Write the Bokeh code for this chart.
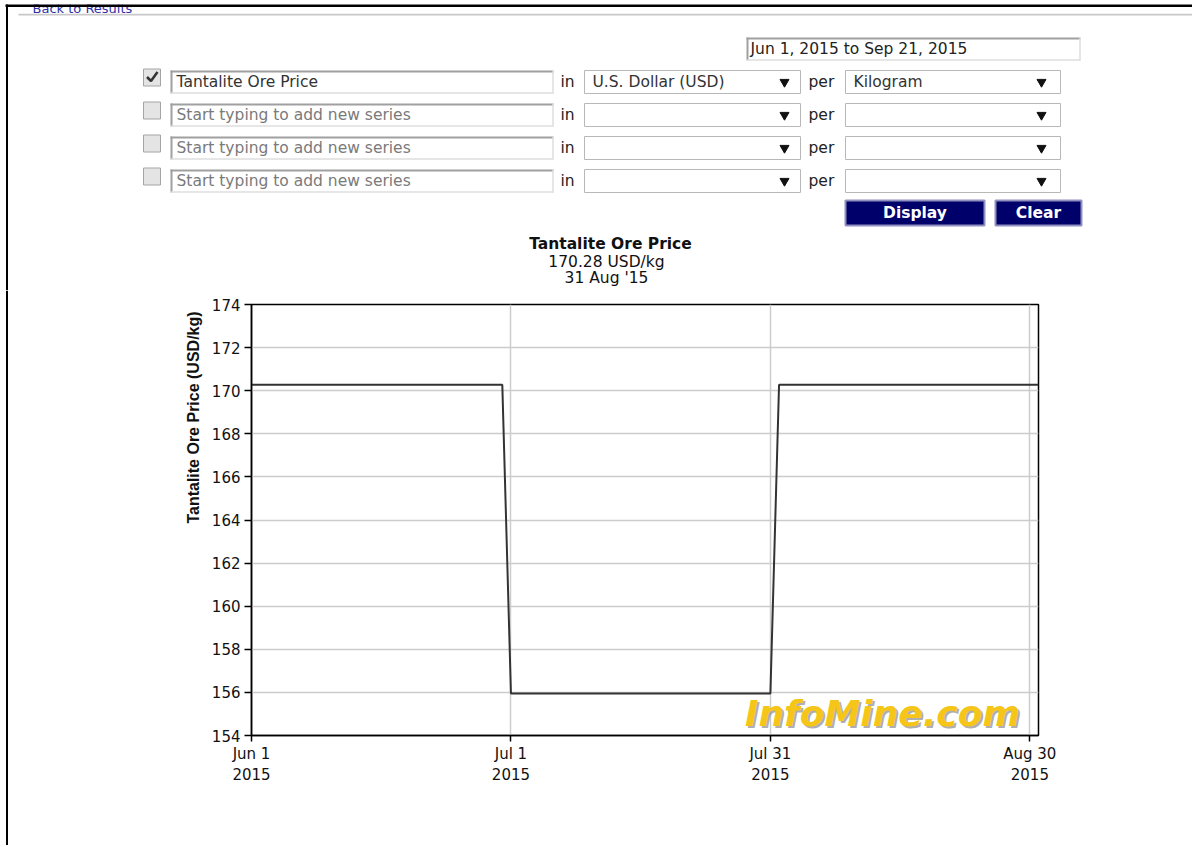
import math
import pandas as pd
from bokeh.plotting import figure
from bokeh.models import Range1d, FixedTicker, Label, ColumnDataSource
from bokeh.layouts import row, column
from bokeh.embed import file_html
from bokeh.resources import INLINE
from bokeh.core.properties import value

# ---------------- data ----------------
dates = ["2015-06-01", "2015-06-30", "2015-07-01", "2015-07-31", "2015-08-01", "2015-08-31"]
prices = [170.28, 170.28, 155.95, 155.95, 170.28, 170.28]
y_ticks = [154, 156, 158, 160, 162, 164, 166, 168, 170, 172, 174]
x_tick_dates = ["2015-06-01", "2015-07-01", "2015-07-31", "2015-08-30"]
x_tick_labels = ["Jun 1\n2015", "Jul 1\n2015", "Jul 31\n2015", "Aug 30\n2015"]
x_start, x_end = "2015-06-01", "2015-08-31"
y_start, y_end = 154, 174
series_name = "Tantalite Ore Price"
unit_label = "USD/kg"
latest_date = "31 Aug '15"
date_range_text = "Jun 1, 2015 to Sep 21, 2015"
currency = "U.S. Dollar (USD)"
per_unit = "Kilogram"
placeholder = "Start typing to add new series"
y_axis_title = "Tantalite Ore Price (USD/kg)"
watermark = "InfoMine.com"

FORM_FONT = value("DejaVu Sans")
FS = "15.5px"
W = 1192
TOP_H = 290
BOT_H = 555
LEFT_W = 205


def to_ms(lst):
    return [float(v) for v in (pd.to_datetime(lst).astype("int64") // 10**6)]


def no_align(fig):
    try:
        fig.frame_align = False
    except Exception:
        pass


x_ms = to_ms(dates)
tick_ms = to_ms(x_tick_dates)
range_ms = to_ms([x_start, x_end])

# ---------------- decoration (form) figure, page pixel coordinates ----------------
d = figure(width=W, height=TOP_H, x_range=Range1d(0, W), y_range=Range1d(TOP_H, 0),
           x_axis_location=None, y_axis_location=None, min_border=0,
           toolbar_location=None, output_backend="svg", outline_line_color=None)
d.grid.visible = False
no_align(d)

# "Back to Results" link, partly hidden behind the page edge as in the screenshot
d.quad(left=[18], right=[W], top=[13.3], bottom=[15], fill_color="#c8c8c8", line_color=None)
d.text(x=[32], y=[0], text=["Back to Results"], text_font=FORM_FONT,
       text_font_size="13px", text_color="#3030a8", text_baseline="top")
d.quad(left=[0], right=[W], top=[0], bottom=[4], fill_color="white", line_color=None)
d.quad(left=[5], right=[W], top=[4], bottom=[6.5], fill_color="black", line_color=None)
d.quad(left=[5.5], right=[7.5], top=[4], bottom=[TOP_H], fill_color="black", line_color=None)


def inset_box(x0, x1, y0, y1):
    d.quad(left=[x0], right=[x1], top=[y0], bottom=[y1], fill_color="white", line_color=None)
    d.multi_line(xs=[[x0, x1], [x0 + 1, x0 + 1]], ys=[[y0 + 1, y0 + 1], [y0, y1]],
                 line_color="#a0a0a0", line_width=2)
    d.multi_line(xs=[[x0, x1], [x1 - 0.5, x1 - 0.5]], ys=[[y1 - 0.5, y1 - 0.5], [y0, y1]],
                 line_color="#dedede", line_width=1.5)


# date range box
inset_box(746, 1080, 37, 60)
d.text(x=[750], y=[48.5], text=[date_range_text], text_font=FORM_FONT,
       text_font_size=FS, text_color="#222222", text_baseline="middle")

row_cy = [81.5, 114.5, 147.5, 180.5]
for i, cy in enumerate(row_cy):
    # checkbox
    d.quad(left=[143], right=[160], top=[cy - 13], bottom=[cy + 4],
           fill_color="#e4e4e4", line_color="#a4a4a4", line_width=1)
    if i == 0:
        d.line(x=[146.5, 150.5, 157], y=[cy - 5, cy - 1, cy - 10],
               line_color="#333333", line_width=2.5)
    # series text input
    inset_box(170, 553, cy - 11.5, cy + 11.5)
    d.text(x=[176], y=[cy], text=[series_name if i == 0 else placeholder],
           text_font=FORM_FONT, text_font_size=FS,
           text_color="#333333" if i == 0 else "#7a7a7a", text_baseline="middle")
    d.text(x=[560], y=[cy], text=["in"], text_font=FORM_FONT, text_font_size=FS,
           text_color="#222222", text_baseline="middle")
    d.text(x=[808], y=[cy], text=["per"], text_font=FORM_FONT, text_font_size=FS,
           text_color="#222222", text_baseline="middle")
    # selects
    d.quad(left=[584, 845], right=[800, 1060], top=[cy - 11.5, cy - 11.5],
           bottom=[cy + 11.5, cy + 11.5], fill_color="white", line_color="#b8b8b8", line_width=1)
    d.scatter(x=[784, 1041], y=[cy, cy], marker="inverted_triangle", size=9,
              fill_color="#111111", line_color="#111111")
    if i == 0:
        d.text(x=[592, 853], y=[cy, cy], text=[currency, per_unit], text_font=FORM_FONT,
               text_font_size=FS, text_color="#333333", text_baseline="middle")

# buttons
d.quad(left=[845, 995], right=[984, 1081], top=[200, 200], bottom=[225, 225],
       fill_color="#00006b", line_color="#9090c0", line_width=2)
d.text(x=[914.5, 1038], y=[212.5, 212.5], text=["Display", "Clear"], text_font=FORM_FONT,
       text_font_size="15.5px", text_font_style="bold", text_color="white",
       text_align="center", text_baseline="middle")

# chart title block
d.text(x=[610], y=[243], text=[series_name], text_font=FORM_FONT, text_font_size="15.5px",
       text_font_style="bold", text_color="#111111", text_align="center", text_baseline="middle")
d.text(x=[606, 606], y=[261, 277], text=[f"{prices[-1]:.2f} {unit_label}", latest_date],
       text_font=FORM_FONT, text_font_size="15.5px", text_color="#111111",
       text_align="center", text_baseline="middle")

# ---------------- left panel (page border + y axis title) ----------------
lp = figure(width=LEFT_W, height=BOT_H, x_range=Range1d(0, LEFT_W),
            y_range=Range1d(TOP_H + BOT_H, TOP_H),
            x_axis_location=None, y_axis_location=None, min_border=0,
            toolbar_location=None, output_backend="svg", outline_line_color=None)
lp.grid.visible = False
no_align(lp)
lp.quad(left=[5.5], right=[7.5], top=[TOP_H], bottom=[TOP_H + BOT_H], fill_color="black",
        line_color=None)
lp.text(x=[193], y=[417], text=[y_axis_title], angle=math.pi / 2,
        text_font=value("Liberation Sans"), text_font_style="bold", text_font_size="16px",
        text_color="#111111", text_align="center", text_baseline="middle")

# ---------------- chart ----------------
frame_left, frame_right, frame_top, frame_bottom = 251, 1038, 304, 735
p = figure(width=W - LEFT_W, height=BOT_H, x_axis_type="datetime",
           x_range=Range1d(range_ms[0], range_ms[1]), y_range=Range1d(y_start, y_end),
           output_backend="svg", toolbar_location=None,
           min_border_left=frame_left - LEFT_W, min_border_right=W - frame_right,
           min_border_top=frame_top - TOP_H, min_border_bottom=TOP_H + BOT_H - frame_bottom,
           background_fill_color="white", border_fill_color="white")
no_align(p)

src = ColumnDataSource(dict(x=x_ms, y=prices))
p.line(x="x", y="y", source=src, line_color="#333333", line_width=2)

xt = FixedTicker(ticks=tick_ms)
yt = FixedTicker(ticks=y_ticks)
p.xaxis.ticker = xt
p.xgrid.ticker = xt
p.yaxis.ticker = yt
p.ygrid.ticker = yt
p.xaxis.major_label_overrides = dict(zip(tick_ms, x_tick_labels))

p.grid.grid_line_color = "#cccccc"
p.grid.grid_line_width = 1.5
p.outline_line_color = "black"
p.outline_line_width = 1.5

p.axis.axis_line_color = "black"
p.axis.axis_line_width = 1.5
p.axis.major_tick_line_color = "black"
p.axis.major_tick_line_width = 1.5
p.axis.major_tick_in = 0
p.axis.minor_tick_line_color = None
p.axis.major_label_text_font = "DejaVu Sans"
p.axis.major_label_text_font_size = "15px"
p.axis.major_label_text_color = "#111111"
p.yaxis.major_tick_out = 7
p.yaxis.major_label_standoff = 4
p.xaxis.major_tick_out = 6
p.xaxis.major_label_standoff = 3

# watermark
p.add_layout(Label(x=633, y=20, x_units="screen", y_units="screen", text=watermark,
                   text_align="center", text_baseline="middle", text_font="DejaVu Sans",
                   text_font_style="bold italic", text_font_size="36px",
                   text_color="#8c8c8c", text_alpha=0.7))
p.add_layout(Label(x=631, y=22, x_units="screen", y_units="screen", text=watermark,
                   text_align="center", text_baseline="middle", text_font="DejaVu Sans",
                   text_font_style="bold italic", text_font_size="36px",
                   text_color="#f5c518"))

layout = column(d, row(lp, p))
open("out.html", "w").write(file_html(layout, INLINE))
